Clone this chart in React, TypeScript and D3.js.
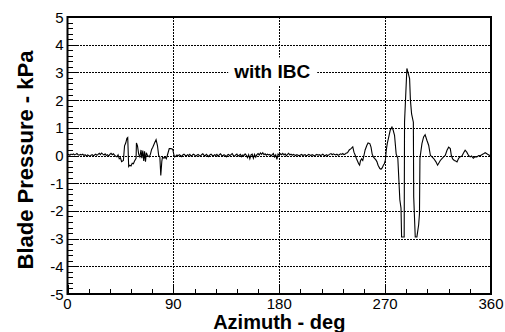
import React from 'react';
import * as d3 from 'd3';

const W = 505;
const H = 332;
const PLOT = { left: 67.5, right: 491, top: 17, bottom: 294 };

const xMajorTicks = [0, 90, 180, 270, 360];
const yMajorTicks = [-5, -4, -3, -2, -1, 0, 1, 2, 3, 4, 5];
const xGridValues = [90, 180, 270];
const yGridValues = [-4, -3, -2, -1, 0, 1, 2, 3, 4];
const xLabel = 'Azimuth - deg';
const yLabel = 'Blade Pressure - kPa';
const caseLabel = 'with IBC';

// quiet stretch, 0..41 deg, 1 deg apart
const quietStartAz0 = 0;
const quietStart = [
  0.02, 0.04, 0.01, 0.05, 0.03, 0.06, 0.02, 0.04, 0.07, 0.03, 0.01, 0.04, 0.02, 0.05,
  0.0, 0.03, -0.02, 0.02, 0.0, -0.03, 0.01, 0.03, -0.01, 0.02, 0.05, 0.01, 0.04, 0.08,
  0.03, 0.09, 0.05, 0.02, 0.06, 0.0, 0.03, -0.02, 0.04, 0.08, 0.03, 0.06, 0.01, -0.03,
];

// advancing-side activity [azimuth deg, kPa]
const burst1: [number, number][] = [
  [42, -0.05], [43, 0.02], [44, -0.12], [45, -0.08], [46, -0.22], [47.5, -0.18],
  [48.5, 0.35], [49.5, 0.45], [50.5, 0.62], [51.2, 0.65], [52.0, -0.4], [53, -0.35],
  [54, -0.38], [55, -0.28], [56, -0.3], [57, -0.2], [58.3, -0.1], [58.6, 0.45],
  [59.5, 0.35], [60.5, 0.05], [61.5, -0.05], [62.5, 0.2], [63.2, -0.1], [64, 0.18],
  [64.8, -0.2], [65.5, 0.15], [66.3, -0.22], [67, 0.1], [68, 0.0], [69.5, -0.05],
  [70.5, 0.05], [71.5, 0.22], [72.5, 0.3], [74, 0.45], [75.3, 0.57], [76.5, 0.35],
  [77.5, 0.0], [78.5, -0.05], [79.3, -0.72], [80.2, -0.2], [80.8, -0.05], [82, -0.1],
  [83, -0.06], [84, -0.12], [85.5, 0.1], [86.5, 0.25], [88, 0.25], [89.5, 0.22],
  [90.3, 0.05], [91, -0.05],
];

// quiet stretch, 92..237 deg, 1 deg apart
const quietMidAz0 = 92;
const quietMid = [
  -0.03, 0.02, -0.01, 0.03, 0.0, -0.04, 0.02, 0.05, 0.01, -0.02,
  0.03, 0.0, 0.04, -0.02, 0.01, 0.05, 0.02, -0.03, 0.01, 0.04,
  0.0, -0.02, 0.03, 0.06, 0.01, -0.01, 0.04, 0.0, -0.04, 0.02,
  0.05, 0.01, -0.02, 0.03, 0.0, 0.04, -0.03, 0.02, 0.06, 0.01,
  -0.02, 0.03, 0.0, -0.05, 0.02, 0.04, -0.01, 0.03, 0.07, 0.0,
  -0.03, 0.02, 0.05, -0.02, 0.01, 0.04, -0.04, 0.02, 0.0, 0.06,
  0.01, -0.08, 0.03, -0.12, 0.02, 0.05, -0.1, 0.04, -0.06, 0.03,
  0.07, 0.02, 0.09, 0.04, 0.1, 0.03, 0.06, 0.01, 0.05, 0.02,
  0.04, -0.02, 0.03, 0.07, -0.05, 0.02, -0.14, 0.05, 0.01, 0.06,
  0.03, 0.08, 0.02, 0.06, -0.01, 0.04, 0.08, 0.02, 0.05, 0.01,
  0.04, 0.02, 0.0, 0.03, 0.01, -0.01, 0.02, 0.04, 0.0, 0.02,
  0.03, -0.01, 0.01, 0.04, 0.02, 0.0, 0.03, 0.01, -0.02, 0.02,
  0.04, 0.01, 0.03, 0.0, 0.02, 0.05, 0.01, -0.01, 0.03, 0.0,
  0.02, 0.05, 0.07, 0.03, 0.06, 0.04, 0.02, 0.05, 0.01, 0.03,
  0.06, 0.04, 0.07, 0.03, 0.05, 0.09,
];

// retreating-side activity incl. the BVI spikes [azimuth deg, kPa]
const burst2: [number, number][] = [
  [238, 0.1], [239.5, 0.2], [241, 0.25], [242.5, 0.31], [243.5, 0.12], [244.5, 0.02],
  [245.5, -0.1], [246.5, -0.2], [247.5, -0.3], [248.3, -0.35], [249, -0.2], [250, -0.12],
  [251, -0.18], [252, 0.0], [253, 0.2], [254.5, 0.37], [255.5, 0.45], [257, 0.43],
  [258, 0.3], [259, 0.05], [260, -0.05], [261, -0.1], [262, -0.15], [263, -0.22],
  [264, -0.35], [265.5, -0.47], [266.5, -0.5], [267.5, -0.45], [268.5, -0.35],
  [269.3, -0.3], [270.2, -0.17], [271, 0.19], [271.8, 0.43], [273, 0.65], [274.3, 0.91],
  [275.8, 1.03], [276.8, 0.92], [278, 0.73], [279.4, 0.05], [280.8, -0.1], [282.5, -1.6],
  [283.5, -1.9], [284.0, -2.94], [286.2, -2.94], [286.5, 1.2], [288.5, 3.14],
  [289.8, 2.95], [290.8, 2.78], [291.5, 2.0], [292.5, 1.5], [294.0, 1.2], [294.3, -1.5],
  [295.6, -2.94], [297.0, -2.94], [298.5, -2.5], [299.2, -2.1], [299.6, -0.1],
  [301.3, 0.43], [302.7, 0.67], [304, 0.75], [305.5, 0.55], [307, 0.37], [308.5, 0.0],
  [309.9, -0.05], [311.3, -0.11], [313.2, -0.23], [314.6, -0.35], [316.9, -0.18],
  [318.3, -0.11], [319.7, -0.05], [321.1, 0.0], [322.6, 0.19], [324, 0.3], [325.4, 0.25],
  [326.3, 0.0], [327.4, -0.12], [328.8, -0.18], [330, -0.2], [331.1, -0.23], [332.5, -0.1],
];

// tail [azimuth deg, kPa]
const quietEnd: [number, number][] = [
  [333.5, -0.05], [335.3, -0.02], [336.5, 0.08], [338, 0.19], [339.4, 0.12], [340.9, 0.0],
  [342.3, -0.05], [343.5, -0.02], [345, -0.1], [346.5, -0.04], [348, -0.05], [349.5, 0.0],
  [350.8, -0.01], [352.2, 0.03], [353.6, 0.06], [355, 0.1], [356.5, 0.06], [357.8, 0.03],
  [359, 0.0], [360, -0.02],
];

const series: [number, number][] = [
  ...quietStart.map((v, i) => [quietStartAz0 + i, v] as [number, number]),
  ...burst1,
  ...quietMid.map((v, i) => [quietMidAz0 + i, v] as [number, number]),
  ...burst2,
  ...quietEnd,
];

const FONT = "Arial, 'Liberation Sans', Helvetica, sans-serif";

export default function App() {
  const x = d3.scaleLinear().domain([0, 360]).range([PLOT.left, PLOT.right]);
  const y = d3.scaleLinear().domain([-5, 5]).range([PLOT.bottom, PLOT.top]);
  const line = d3
    .line<[number, number]>()
    .x((d) => x(d[0]))
    .y((d) => y(d[1]));

  const snap = (v: number) => Math.round(v) + 0.5;
  const xMinor = d3.range(0, 361, 18).filter((v) => v % 90 !== 0);
  const yMinor = d3.range(-50, 51, 2).map((v) => v / 10).filter((v) => Math.abs(v % 1) > 1e-6);

  const labelCx = x(174);
  const labelY = y(3);

  return (
    <svg
      width={W}
      height={H}
      style={{ position: 'absolute', left: 0, top: 0, background: '#fff' }}
      fontFamily={FONT}
    >
      <rect x={0} y={0} width={W} height={H} fill="#fff" />
      {/* grid */}
      <g shapeRendering="crispEdges">
        {yGridValues.map((v) => (
          <line key={'gy' + v} x1={PLOT.left} x2={PLOT.right} y1={snap(y(v))} y2={snap(y(v))}
            stroke="#000" strokeWidth={1} strokeDasharray="2,1" />
        ))}
        {xGridValues.map((v) => (
          <line key={'gx' + v} x1={snap(x(v))} x2={snap(x(v))} y1={PLOT.top} y2={PLOT.bottom}
            stroke="#000" strokeWidth={1} strokeDasharray="2,1" />
        ))}
        {/* ticks */}
        {yMajorTicks.map((v) => (
          <line key={'ty' + v} x1={PLOT.left} x2={PLOT.left + 9} y1={snap(y(v))} y2={snap(y(v))} stroke="#000" strokeWidth={1} />
        ))}
        {yMinor.map((v) => (
          <line key={'tym' + v} x1={PLOT.left} x2={PLOT.left + 5} y1={snap(y(v))} y2={snap(y(v))} stroke="#000" strokeWidth={1} />
        ))}
        {xMajorTicks.map((v) => (
          <line key={'tx' + v} x1={snap(x(v))} x2={snap(x(v))} y1={PLOT.bottom} y2={PLOT.bottom - 9} stroke="#000" strokeWidth={1} />
        ))}
        {xMinor.map((v) => (
          <line key={'txm' + v} x1={snap(x(v))} x2={snap(x(v))} y1={PLOT.bottom} y2={PLOT.bottom - 5} stroke="#000" strokeWidth={1} />
        ))}
      </g>
      {/* case label with blanking box */}
      <rect x={labelCx - 44} y={labelY - 15} width={89} height={28} fill="#fff" />
      <text x={labelCx} y={labelY + 6} textAnchor="middle" fontWeight="bold" fontSize={19} fill="#000">
        {caseLabel}
      </text>
      {/* data */}
      <path d={line(series) || ''} fill="none" stroke="#000" strokeWidth={1.1} strokeLinejoin="miter" />
      {/* frame */}
      <rect x={PLOT.left} y={PLOT.top} width={PLOT.right - PLOT.left} height={PLOT.bottom - PLOT.top}
        fill="none" stroke="#000" strokeWidth={2} />
      {/* tick labels */}
      {yMajorTicks.map((v) => (
        <text key={'ly' + v} x={PLOT.left - 4} y={y(v) + 5.5} textAnchor="end" fontSize={15} fill="#000">
          {v}
        </text>
      ))}
      {xMajorTicks.map((v) => (
        <text key={'lx' + v} x={x(v)} y={PLOT.bottom + 15} textAnchor="middle" fontSize={15} fill="#000">
          {v}
        </text>
      ))}
      {/* axis titles */}
      <text x={x(180)} y={329} textAnchor="middle" fontWeight="bold" fontSize={20} fill="#000">
        {xLabel}
      </text>
      <text transform={`translate(33, ${160}) rotate(-90)`} textAnchor="middle" fontWeight="bold" fontSize={22} fill="#000">
        {yLabel}
      </text>
    </svg>
  );
}
